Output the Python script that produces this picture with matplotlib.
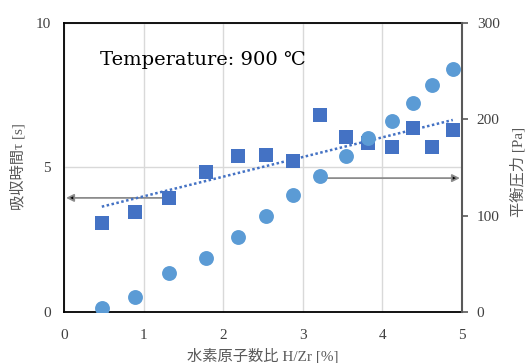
import numpy as np
import matplotlib.pyplot as plt

# データ (水素原子数比, 吸収時間, 平衡圧力)
hz = [0.47, 0.89, 1.32, 1.78, 2.18, 2.54, 2.88, 3.22, 3.54, 3.82, 4.12, 4.39, 4.63, 4.89]
tau = [3.08, 3.46, 3.95, 4.84, 5.39, 5.43, 5.22, 6.81, 6.05, 5.84, 5.72, 6.37, 5.71, 6.28]
pressure = [4.5, 16, 40.5, 56.5, 78, 100, 121, 141.5, 162, 181, 198, 217, 235, 252]

c_sq = '#4472C4'
c_ci = '#5B9BD5'
serif = ['Liberation Serif', 'Noto Sans CJK JP']

fig = plt.figure(figsize=(5.26, 3.63), dpi=100)
ax = fig.add_axes([0.1226, 0.1397, 0.7548, 0.7978])
ax2 = ax.twinx()

# 吸収時間 (左軸)
ax.scatter(hz, tau, marker='s', s=100, color=c_sq, zorder=3, linewidths=0)

# 線形近似の近似曲線
k, b = np.polyfit(hz, tau, 1)
xx = np.array([min(hz), max(hz)])
ax.plot(xx, k * xx + b, ls=(0, (1, 1)), color=c_sq, lw=1.8, zorder=2)

# 平衡圧力 (右軸)
ax2.scatter(hz, pressure, marker='o', s=115, color=c_ci, zorder=3, linewidths=0)

# 矢印
ax.annotate('', xy=(0.02, tau[2]), xytext=(hz[2], tau[2]),
            arrowprops=dict(arrowstyle='-|>', ec='#8c8c8c', fc='black', lw=1.3,
                            mutation_scale=11, shrinkA=0, shrinkB=0), zorder=1)
ax2.annotate('', xy=(4.98, pressure[7] - 2.5), xytext=(hz[7], pressure[7] - 2.5),
             arrowprops=dict(arrowstyle='-|>', ec='#8c8c8c', fc='black', lw=1.3,
                             mutation_scale=11, shrinkA=0, shrinkB=0), zorder=1)

ax.set_xlim(0, 5)
ax.set_ylim(0, 10)
ax2.set_ylim(0, 300)
ax.set_xticks([0, 1, 2, 3, 4, 5])
ax.set_yticks([0, 5, 10])
ax2.set_yticks([0, 100, 200, 300])

ax.grid(True, color='#d9d9d9', lw=1)
ax.set_axisbelow(True)

for s in ['left', 'top', 'bottom']:
    ax.spines[s].set_color('black')
    ax.spines[s].set_linewidth(1.3)
ax.spines['right'].set_visible(False)
for s in ['left', 'top', 'bottom']:
    ax2.spines[s].set_visible(False)
ax2.spines['right'].set_color('#595959')
ax2.spines['right'].set_linewidth(1.5)

ax.tick_params(axis='both', length=0, labelsize=11, labelcolor='#404040')
ax.tick_params(axis='x', pad=12)
ax.tick_params(axis='y', pad=10)
ax2.tick_params(axis='y', length=4, width=1.2, color='#595959', pad=7,
                labelsize=11, labelcolor='#404040')
for lab in ax.get_xticklabels() + ax.get_yticklabels() + ax2.get_yticklabels():
    lab.set_family(serif)

ax.text(0.45, 8.55, 'Temperature: 900 ℃', family=['DejaVu Serif', 'Noto Sans CJK JP'],
        fontsize=14, color='black')

fig.text(0.499, 0.02, '水素原子数比 H/Zr [%]', family=serif, fontsize=11,
         color='#595959', ha='center', va='center')
fig.text(0.034, 0.54, '吸収時間τ [s]', family=serif, fontsize=11, color='#595959',
         rotation=90, ha='center', va='center')
fig.text(0.985, 0.525, '平衡圧力 [Pa]', family=serif, fontsize=11, color='#595959',
         rotation=90, ha='center', va='center')

fig.savefig('out.png', dpi=100)
